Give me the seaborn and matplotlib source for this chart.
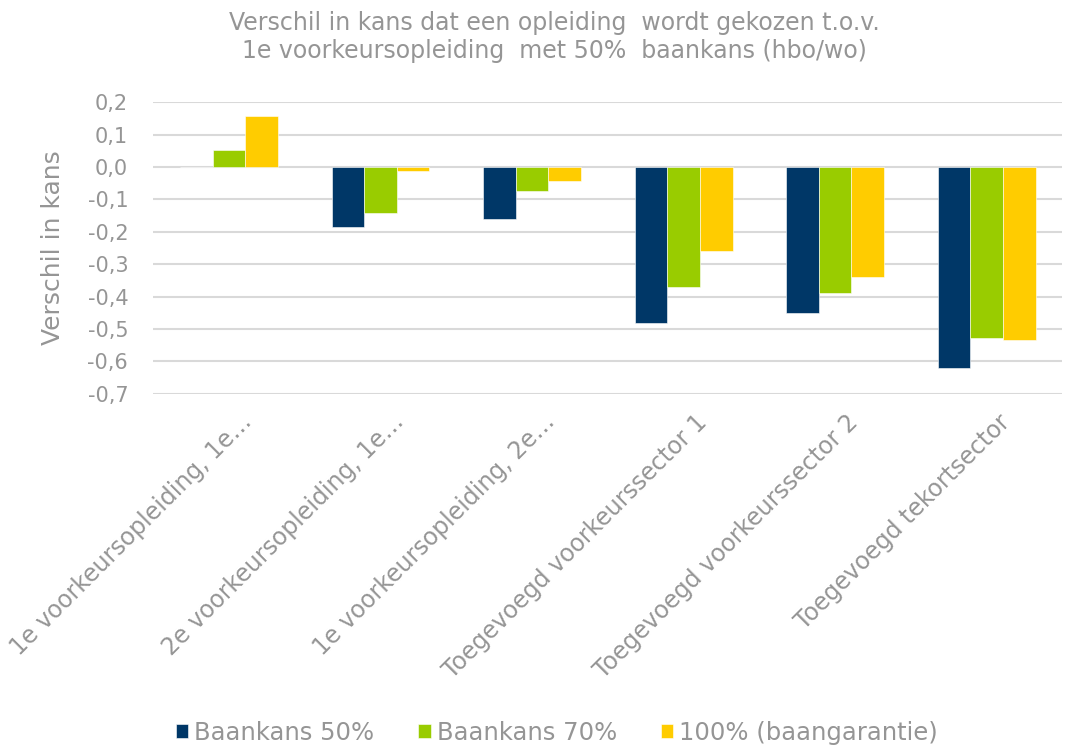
import matplotlib
matplotlib.use("Agg")
import matplotlib.pyplot as plt
import matplotlib.ticker as mticker
import matplotlib.transforms as mtransforms
import seaborn as sns
import pandas as pd

categories = [
    "1e voorkeursopleiding, 1e…",
    "2e voorkeursopleiding, 1e…",
    "1e voorkeursopleiding, 2e…",
    "Toegevoegd voorkeurssector 1",
    "Toegevoegd voorkeurssector 2",
    "Toegevoegd tekortsector",
]
series = ["Baankans 50%", "Baankans 70%", "100% (baangarantie)"]
baankans_50 = [0.0, -0.184, -0.160, -0.480, -0.450, -0.621]
baankans_70 = [0.053, -0.141, -0.073, -0.369, -0.388, -0.529]
baangarantie = [0.157, -0.012, -0.042, -0.259, -0.340, -0.535]
colors = ["#003767", "#99cc00", "#ffcc00"]

df = pd.DataFrame({
    "categorie": categories * 3,
    "reeks": [s for s in series for _ in categories],
    "waarde": baankans_50 + baankans_70 + baangarantie,
})

sns.set_theme(style="white")
plt.rcParams["font.family"] = ["DejaVu Sans"]
grey = "#959595"

fig = plt.figure(figsize=(10.71, 7.46), dpi=100)
ax = fig.add_axes([0.143, 0.472, 0.849, 0.391])

sns.barplot(data=df, x="categorie", y="waarde", hue="reeks",
            palette=colors, width=0.646, saturation=1,
            edgecolor="white", linewidth=0.4, ax=ax)

ax.set_ylim(-0.7, 0.2)
ax.set_yticks([0.2, 0.1, 0.0, -0.1, -0.2, -0.3, -0.4, -0.5, -0.6, -0.7])
ax.yaxis.set_major_formatter(
    mticker.FuncFormatter(lambda v, p: f"{v:.1f}".replace(".", ",")))
ax.grid(axis="y", color="#d9d9d9", linewidth=1.5)
ax.set_axisbelow(True)
for s in ax.spines.values():
    s.set_visible(False)
ax.tick_params(axis="both", length=0, colors=grey)
ax.tick_params(axis="y", pad=18, labelsize=15)
ax.tick_params(axis="x", pad=0, labelsize=17)
shift = mtransforms.ScaledTranslation(11 / 100, -16 / 100, fig.dpi_scale_trans)
for lab in ax.get_xticklabels():
    lab.set_rotation(45)
    lab.set_ha("right")
    lab.set_rotation_mode("anchor")
    lab.set_transform(lab.get_transform() + shift)
ax.set_xlabel("")
ax.set_ylabel("Verschil in kans", color=grey, fontsize=18, labelpad=16)

fig.suptitle("Verschil in kans dat een opleiding  wordt gekozen t.o.v.\n"
             "1e voorkeursopleiding  met 50%  baankans (hbo/wo)",
             x=0.518, color=grey, fontsize=17, y=0.985, linespacing=1.2)

sns.move_legend(ax, "lower center", bbox_to_anchor=(0.52, -0.028),
                bbox_transform=fig.transFigure, ncol=3, frameon=False,
                title=None, fontsize=17.5, handlelength=0.5,
                handleheight=0.5, handletextpad=0.25, columnspacing=1.8)
for t in ax.get_legend().get_texts():
    t.set_color(grey)

fig.savefig("out.png", dpi=100)
